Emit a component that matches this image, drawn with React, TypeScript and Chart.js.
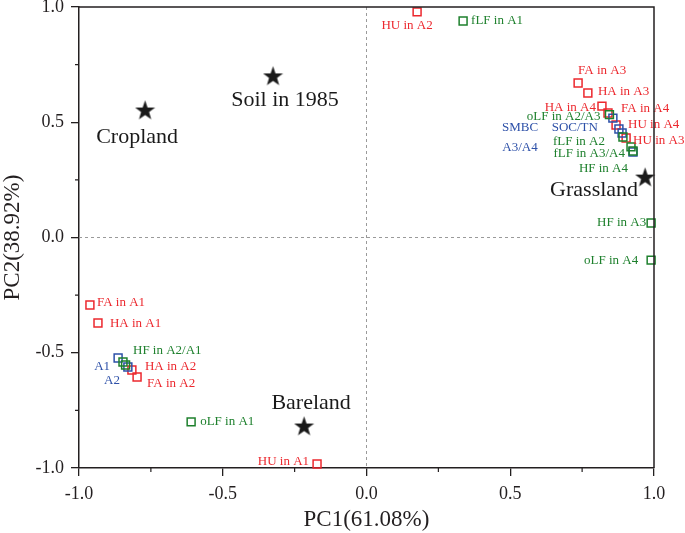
import React, { useEffect, useRef } from "react";
import { Chart, registerables } from "chart.js";
Chart.register(...registerables);

// ---------- data ----------
const xTickValues = [-1.0, -0.5, 0.0, 0.5, 1.0];
const yTickValues = [-1.0, -0.5, 0.0, 0.5, 1.0];
const xTitle = "PC1(61.08%)";
const yTitle = "PC2(38.92%)";

const redNames = ["HU in A2", "FA in A3", "HA in A3", "HA in A4", "FA in A4", "HU in A4", "HU in A3", "FA in A1", "HA in A1", "HA in A2", "FA in A2", "HU in A1"];
const redPC1 = [0.176, 0.736, 0.770, 0.819, 0.840, 0.868, 0.903, -0.962, -0.934, -0.816, -0.798, -0.172];
const redPC2 = [0.979, 0.670, 0.627, 0.570, 0.540, 0.488, 0.432, -0.293, -0.371, -0.575, -0.605, -0.983];

const greenNames = ["fLF in A1", "oLF in A2/A3", "fLF in A2", "fLF in A3/A4", "HF in A4", "HF in A3", "oLF in A4", "HF in A2/A1", "", "oLF in A1"];
const greenPC1 = [0.336, 0.845, 0.892, 0.920, 0.927, 0.990, 0.990, -0.847, -0.838, -0.610];
const greenPC2 = [0.939, 0.533, 0.436, 0.393, 0.375, 0.063, -0.098, -0.540, -0.553, -0.800];

const blueNames = ["SOC/TN", "", "", "SMBC\nA3/A4", "A1", "A2"];
const bluePC1 = [0.857, 0.878, 0.889, 0.927, -0.864, -0.830];
const bluePC2 = [0.518, 0.471, 0.453, 0.371, -0.523, -0.562];

const starNames = ["Cropland", "Soil in 1985", "Grassland", "Bareland"];
const starPC1 = [-0.770, -0.325, 0.969, -0.217];
const starPC2 = [0.553, 0.701, 0.262, -0.818];

// ---------- label placement (styling: pixel offsets and alignment) ----------
type Off = [number, number, CanvasTextAlign];
const redOffsets: Off[] = [
  [-10, 14, "center"], [0, -12, "left"], [10, -1, "left"], [-6, 1, "right"], [13, -4, "left"], [12, 0, "left"],
  [7, 3, "left"], [7, -2, "left"], [12, 1, "left"], [13, -3, "left"], [10, 7, "left"], [-8, -3, "right"],
];
const greenOffsets: Off[] = [
  [8, 0, "left"], [-9, 2, "right"], [-18, 5, "right"], [-6, 7, "right"], [-5, 18, "right"], [-5, 0, "right"],
  [-13, 0, "right"], [10, -11, "left"], [0, 0, "left"], [9, 0, "left"],
];
const blueOffsets: Off[] = [
  [-15, 9, "right"], [0, 0, "left"], [0, 0, "left"], [-113, -24, "center"], [-8, 9, "right"], [-8, 14, "right"],
];
const starOffsets: Off[] = [
  [-8, 27, "center"], [12, 24, "center"], [-7, 13, "right"], [7, -23, "center"],
];

const FONT = "'Liberation Serif', 'Times New Roman', serif";
const RED = "rgb(236,40,46)";
const GREEN = "rgb(30,128,45)";
const BLUE = "rgb(45,80,168)";
const AXIS = "#231f20";

function makeStar(size: number): HTMLCanvasElement {
  const c = document.createElement("canvas");
  c.width = size;
  c.height = size;
  const g = c.getContext("2d")!;
  const cx = size / 2, cy = size / 2 + 0.8;
  const R = size / 2, r = R * 0.4;
  g.beginPath();
  for (let i = 0; i < 10; i++) {
    const rad = i % 2 === 0 ? R : r;
    const a = -Math.PI / 2 + (i * Math.PI) / 5;
    const px = cx + rad * Math.cos(a), py = cy + rad * Math.sin(a);
    if (i === 0) g.moveTo(px, py); else g.lineTo(px, py);
  }
  g.closePath();
  g.fillStyle = "#1a1a1a";
  g.fill();
  return c;
}

const zip = (xs: number[], ys: number[]) => xs.map((x, i) => ({ x, y: ys[i] }));

const labelPlugin = {
  id: "pointLabels",
  afterDatasetsDraw(chart: any) {
    const ctx = chart.ctx;
    chart.data.datasets.forEach((ds: any, di: number) => {
      const meta = chart.getDatasetMeta(di);
      ctx.save();
      ctx.fillStyle = ds.labelColor;
      ctx.font = `${ds.labelSize}px ${FONT}`;
      ctx.textBaseline = "middle";
      meta.data.forEach((el: any, i: number) => {
        const text: string = ds.names[i];
        if (!text) return;
        const [dx, dy, align] = ds.offsets[i];
        ctx.textAlign = align;
        text.split("\n").forEach((line, li) => {
          ctx.fillText(line, el.x + dx, el.y + dy + li * 20);
        });
      });
      ctx.restore();
    });
  },
};

const framePlugin = {
  id: "frame",
  beforeDatasetsDraw(chart: any) {
    const { ctx, chartArea: a, scales } = chart;
    const x0 = scales.x.getPixelForValue(0);
    const y0 = scales.y.getPixelForValue(0);
    ctx.save();
    ctx.strokeStyle = "#9a9a9a";
    ctx.lineWidth = 1;
    ctx.setLineDash([3, 3]);
    ctx.beginPath();
    ctx.moveTo(x0, a.top);
    ctx.lineTo(x0, a.bottom);
    ctx.moveTo(a.left, y0);
    ctx.lineTo(a.right, y0);
    ctx.stroke();
    ctx.restore();
  },
  afterDraw(chart: any) {
    const { ctx, chartArea: a, scales } = chart;
    ctx.save();
    ctx.strokeStyle = AXIS;
    ctx.lineWidth = 1.5;
    ctx.beginPath();
    ctx.moveTo(a.left, a.top);
    ctx.lineTo(a.right, a.top);
    ctx.lineTo(a.right, a.bottom);
    ctx.stroke();
    // minor ticks
    ctx.lineWidth = 1.2;
    const minors = [-0.75, -0.25, 0.25, 0.75];
    ctx.beginPath();
    minors.forEach((v) => {
      const px = scales.x.getPixelForValue(v);
      ctx.moveTo(px, a.bottom);
      ctx.lineTo(px, a.bottom + 4);
      const py = scales.y.getPixelForValue(v);
      ctx.moveTo(a.left, py);
      ctx.lineTo(a.left - 4, py);
    });
    ctx.stroke();
    // axis titles
    ctx.fillStyle = AXIS;
    ctx.font = `23px ${FONT}`;
    ctx.textAlign = "center";
    ctx.textBaseline = "middle";
    ctx.fillText(xTitle, (a.left + a.right) / 2, 520);
    ctx.translate(13, (a.top + a.bottom) / 2);
    ctx.rotate(-Math.PI / 2);
    ctx.fillText(yTitle, 0, 0);
    ctx.restore();
  },
};

export default function App() {
  const ref = useRef<HTMLCanvasElement>(null);
  useEffect(() => {
    const star = makeStar(21);
    const sq = (color: string) => ({
      pointStyle: "rect",
      pointRadius: 5.6,
      pointHoverRadius: 5.6,
      pointBorderWidth: 1.5,
      pointBorderColor: color,
      pointBackgroundColor: "rgba(0,0,0,0)",
      borderColor: color,
      backgroundColor: "rgba(0,0,0,0)",
      showLine: false,
      clip: false,
    });
    const commonScale = (ticks: number[], extra: any) => ({
      type: "linear",
      min: -1,
      max: 1,
      afterBuildTicks: (s: any) => {
        s.ticks = ticks.map((v) => ({ value: v }));
      },
      ticks: {
        font: { family: FONT, size: 18 },
        color: AXIS,
        padding: 7,
        callback: (v: any) => Number(v).toFixed(1),
      },
      grid: {
        display: true,
        drawOnChartArea: false,
        drawTicks: true,
        tickLength: 8,
        color: AXIS,
        lineWidth: 1.3,
      },
      border: { display: true, color: AXIS, width: 1.5 },
      ...extra,
    });
    const chart = new Chart(ref.current!, {
      type: "scatter",
      data: {
        datasets: [
          { data: zip(greenPC1, greenPC2), names: greenNames, offsets: greenOffsets, labelColor: GREEN, labelSize: 13, ...sq(GREEN) } as any,
          { data: zip(bluePC1, bluePC2), names: blueNames, offsets: blueOffsets, labelColor: BLUE, labelSize: 13, ...sq(BLUE) } as any,
          { data: zip(redPC1, redPC2), names: redNames, offsets: redOffsets, labelColor: RED, labelSize: 13, ...sq(RED) } as any,
          {
            data: zip(starPC1, starPC2), names: starNames, offsets: starOffsets, labelColor: "#1a1a1a", labelSize: 22,
            pointStyle: star, pointRadius: 10, showLine: false, clip: false,
          } as any,
        ],
      },
      options: {
        responsive: false,
        animation: false,
        devicePixelRatio: 1,
        layout: { autoPadding: false, padding: { left: 0, top: 7, right: 31, bottom: 0 } },
        plugins: { legend: { display: false }, tooltip: { enabled: false } },
        events: [],
        scales: {
          x: commonScale(xTickValues, {
            position: "bottom",
            afterFit: (s: any) => {
              s.height = 65;
              s.paddingLeft = 0;
              s.paddingRight = 0;
            },
          }),
          y: commonScale(yTickValues, {
            position: "left",
            afterFit: (s: any) => {
              s.width = 79;
              s.paddingTop = 0;
              s.paddingBottom = 0;
            },
          }),
        },
      } as any,
      plugins: [framePlugin, labelPlugin],
    });
    return () => chart.destroy();
  }, []);
  return (
    <div style={{ position: "absolute", left: 0, top: 0, width: 685, height: 533, background: "#fff" }}>
      <canvas ref={ref} width={685} height={533} />
    </div>
  );
}
